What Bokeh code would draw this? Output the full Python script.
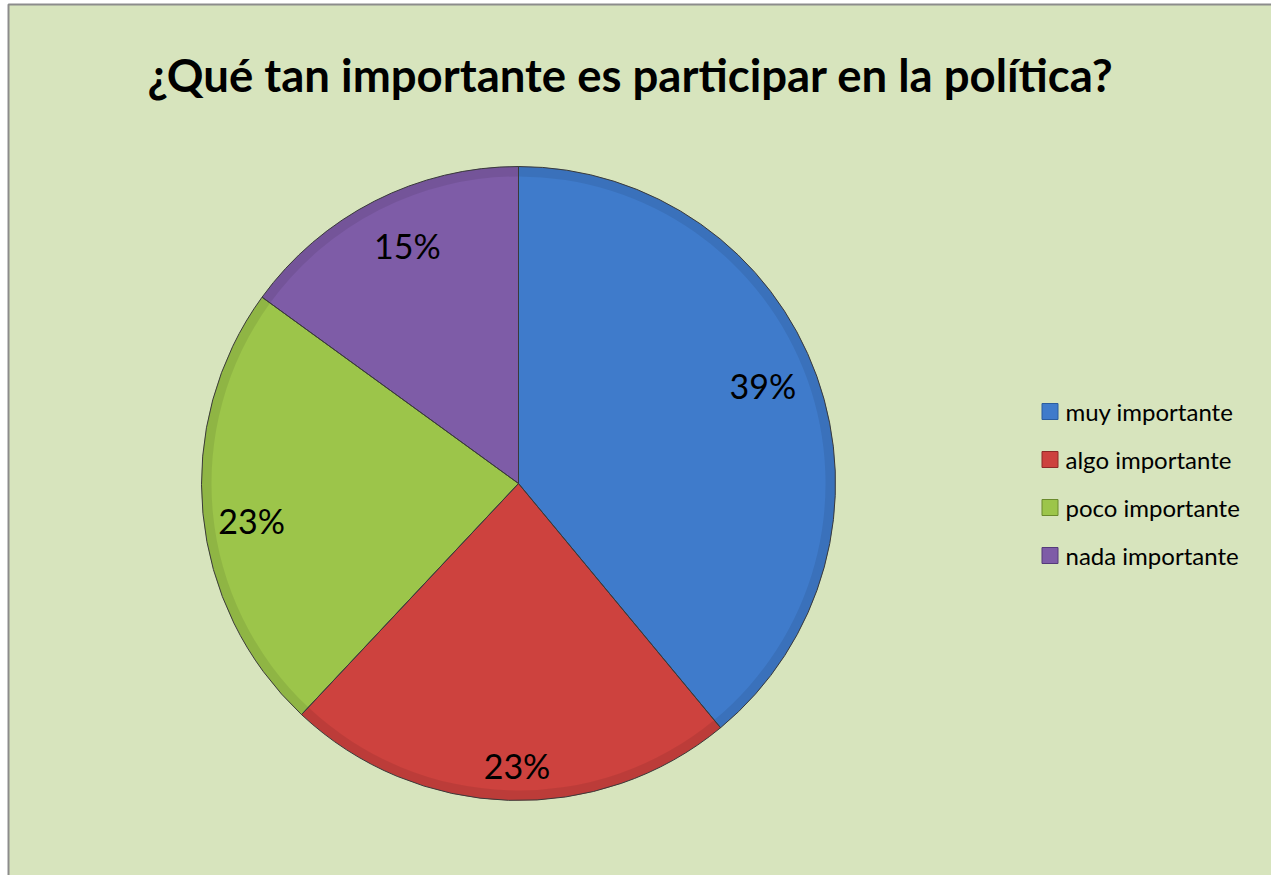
import numpy as np
from bokeh.plotting import figure
from bokeh.models import Range1d, ColumnDataSource
from bokeh.core.properties import value
from bokeh.embed import file_html
from bokeh.resources import INLINE

# ---- data ----
title = "¿Qué tan importante es participar en la política?"
categories = ["muy importante", "algo importante", "poco importante", "nada importante"]
values = [39, 23, 23, 15]
labels = ["39%", "23%", "23%", "15%"]
colors = ["#3F7BCB", "#CD423E", "#9CC54A", "#7E5CA7"]
edge_colors = ["#2A5C9E", "#8E2A27", "#6A8A2C", "#553A7A"]

# label placement (fraction of radius, angular nudge in degrees)
label_radius = [0.83, 0.89, 0.85, 0.83]
label_nudge = [2.0, 1.5, 2.5, -2.0]

W, H = 1271, 875

def Y(y_img):
    return H - y_img

p = figure(width=W, height=H, output_backend="svg", toolbar_location=None,
           x_range=Range1d(0, W), y_range=Range1d(0, H),
           min_border=0, background_fill_color="white",
           border_fill_color="white", outline_line_color=None)
p.axis.visible = False
p.grid.visible = False

# chart area
p.quad(left=[8], right=[W + 20], top=[Y(4)], bottom=[Y(H + 20)],
       fill_color="#D7E4BD", line_color="#8C8C8C", line_width=2)

cx, cy, r = 518, Y(483), 317
vals = np.array(values, dtype=float)
frac = vals / vals.sum()
cum = np.concatenate([[0], np.cumsum(frac)])
start = np.pi / 2 - cum[:-1] * 2 * np.pi
end = np.pi / 2 - cum[1:] * 2 * np.pi

src = ColumnDataSource(dict(start=start, end=end, color=colors, edge=edge_colors))
p.wedge(x=cx, y=cy, radius=r, start_angle="start", end_angle="end",
        direction="clock", fill_color="color", line_color=None, source=src)
# bevel rim
p.annular_wedge(x=cx, y=cy, inner_radius=r - 10, outer_radius=r,
                start_angle="start", end_angle="end", direction="clock",
                fill_color="black", fill_alpha=0.08, line_color=None, source=src)
p.wedge(x=cx, y=cy, radius=r, start_angle="start", end_angle="end",
        direction="clock", fill_color=None, line_color="#3A3A3A",
        line_width=1, source=src)

mid = (start + end) / 2 + np.radians(label_nudge)
lr = np.array(label_radius) * r
lsrc = ColumnDataSource(dict(x=cx + lr * np.cos(mid), y=cy + lr * np.sin(mid), t=labels))
p.text(x="x", y="y", text="t", source=lsrc, text_font=value("Lato"),
       text_font_size="34px", text_align="center", text_baseline="middle",
       text_color="#000000")

# title
p.text(x=[630], y=[Y(74)], text=[title], text_font=value("Lato"),
       text_font_size="45.5px", text_font_style="bold", text_align="center",
       text_baseline="middle", text_color="#000000")

# legend
idx = np.arange(len(categories))
ly = Y(411) - idx * 48
p.scatter(x=[1049.5] * len(categories), y=ly, marker="square", size=16,
          fill_color=colors, line_color=edge_colors, line_width=1)
p.text(x=[1065] * len(categories), y=ly, text=categories, text_font=value("Lato"),
       text_font_size="24px", text_align="left", text_baseline="middle",
       text_color="#000000")

open("out.html", "w").write(file_html(p, INLINE))
